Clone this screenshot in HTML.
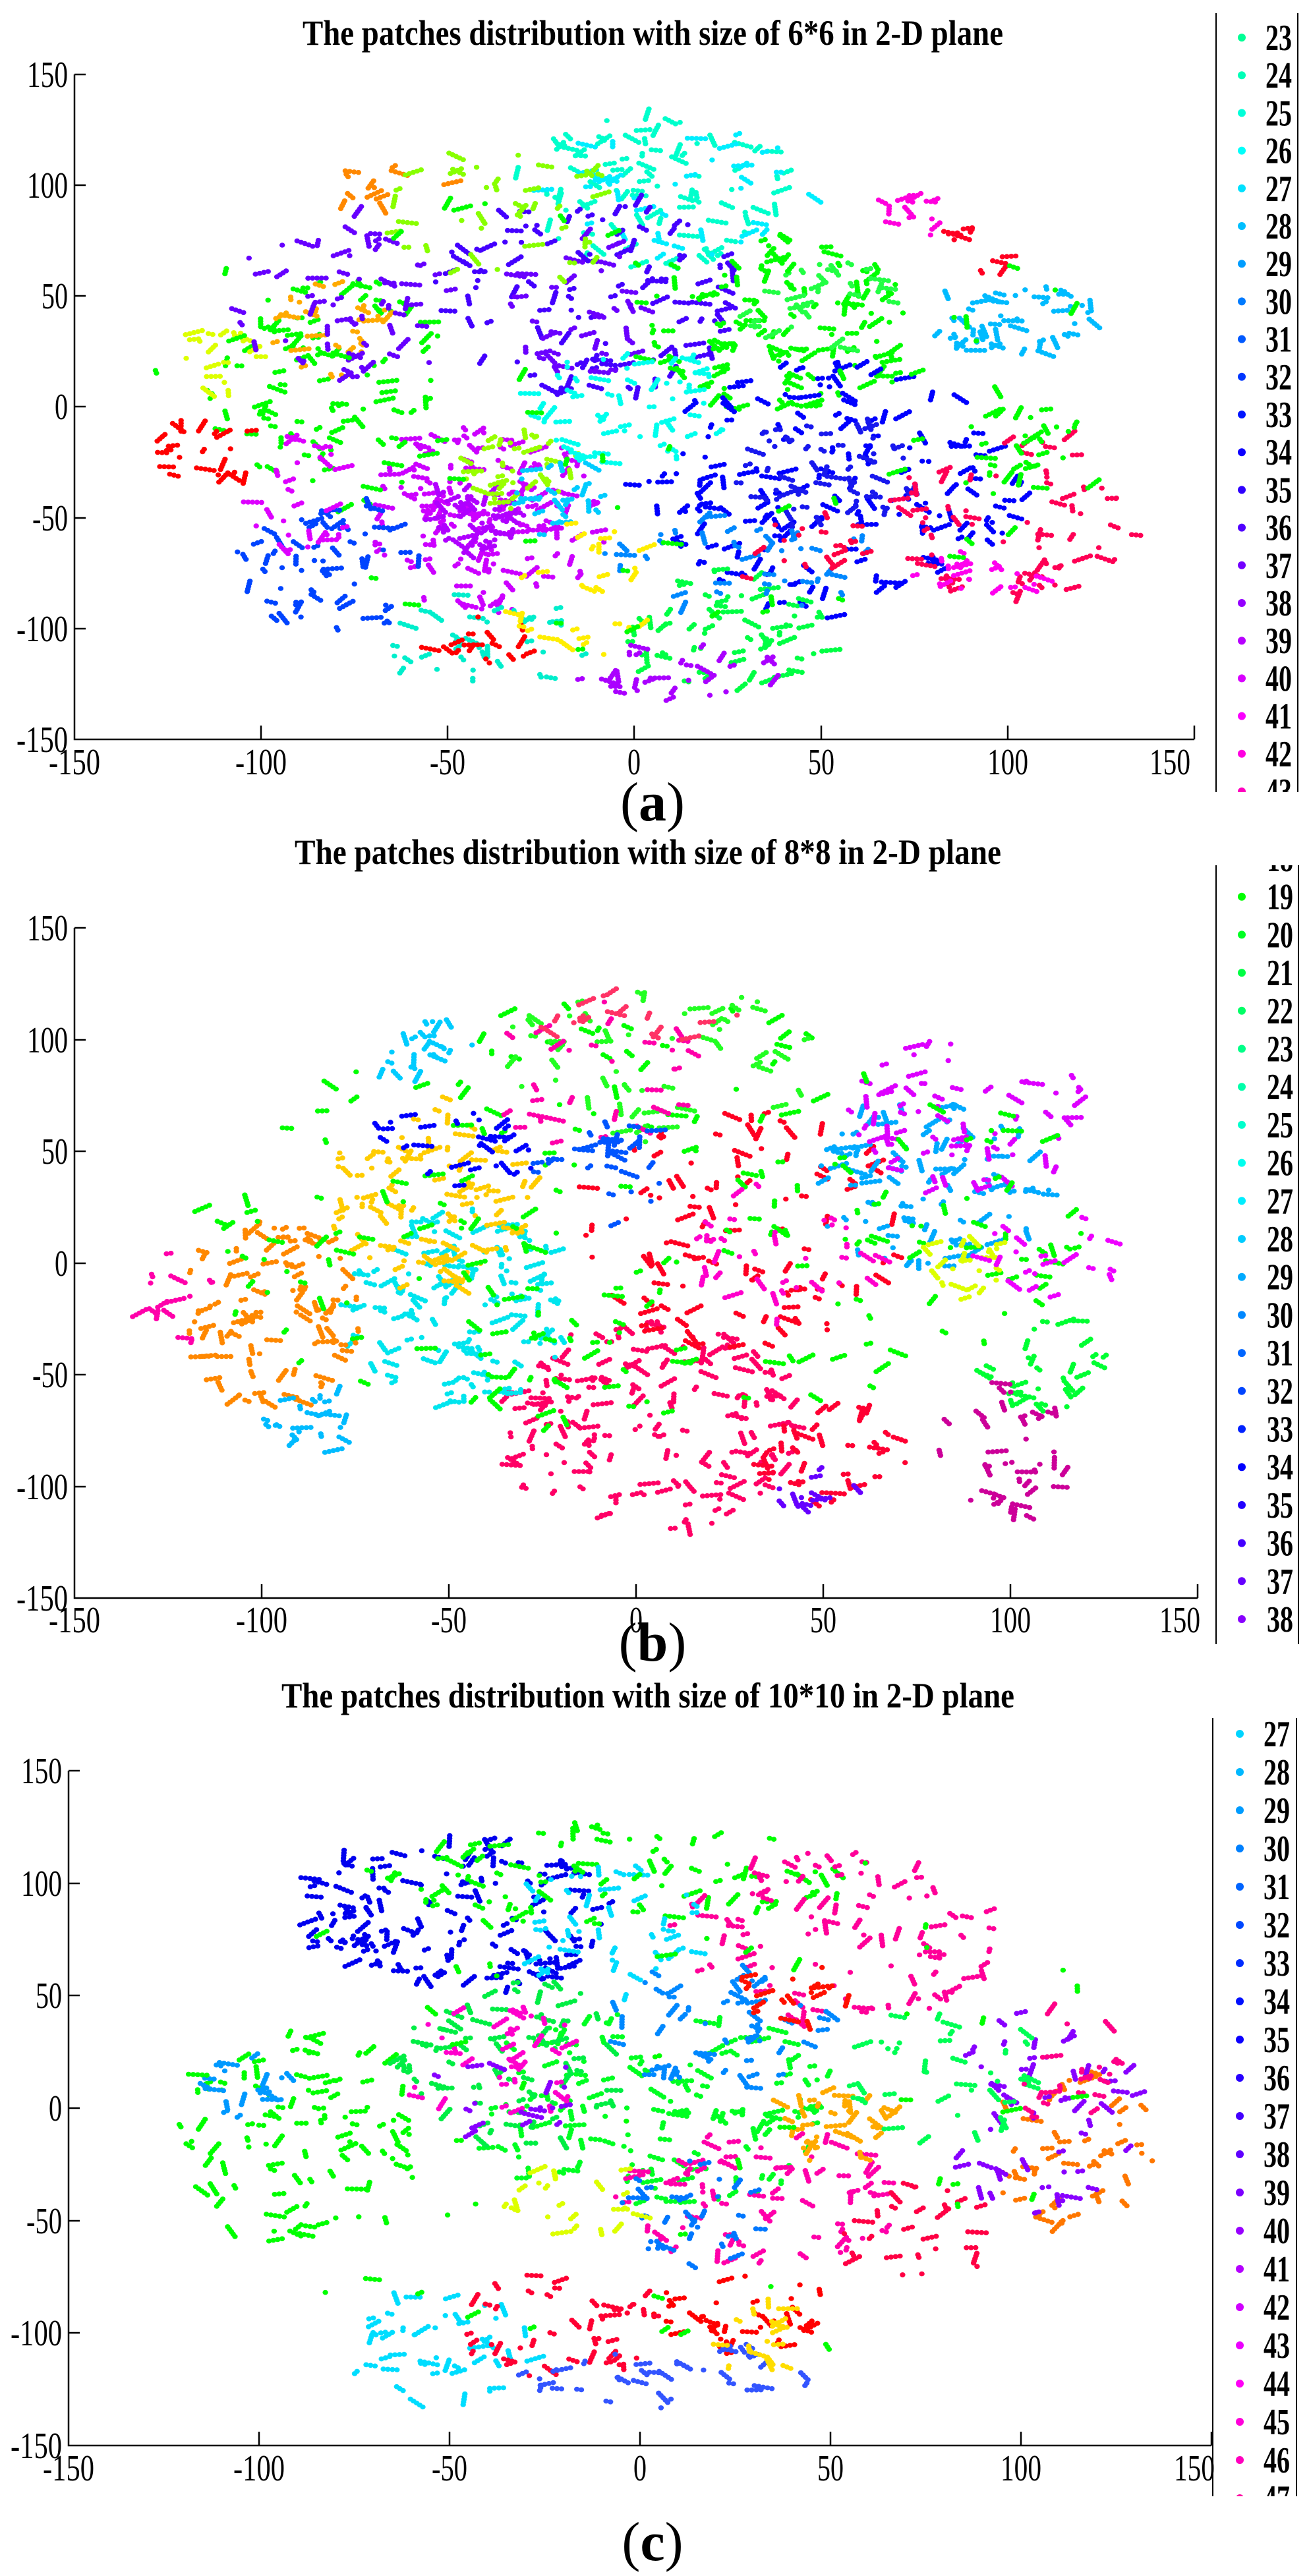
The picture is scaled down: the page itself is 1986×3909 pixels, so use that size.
<!DOCTYPE html>
<html><head><meta charset="utf-8">
<style>
html,body{margin:0;padding:0;background:#fff;}
svg{display:block;}
.t{font-family:"Liberation Serif",serif;font-weight:bold;font-size:54px;}
.k{font-family:"Liberation Serif",serif;font-size:56px;}
.l{font-family:"Liberation Serif",serif;font-weight:bold;font-size:56px;}
.c{font-family:"Liberation Serif",serif;font-size:84px;}
</style></head>
<body>
<svg id="s" width="1986" height="3909" viewBox="0 0 1986 3909" xmlns="http://www.w3.org/2000/svg">
<defs>
<clipPath id="ca"><rect x="1830" y="20" width="156" height="1182"/></clipPath>
<clipPath id="cb"><rect x="1830" y="1313" width="156" height="1182"/></clipPath>
<clipPath id="cc"><rect x="1830" y="2607" width="156" height="1181"/></clipPath>
</defs>
<g id="dots"></g>

<!-- Panel a -->
<text class="t" x="459" y="68" textLength="1063" lengthAdjust="spacingAndGlyphs">The patches distribution with size of 6*6 in 2-D plane</text>
<g stroke="#000" stroke-width="2.5" fill="none">
<path d="M113 113 V1122 H1812"/>
<path d="M113 113h17M113 281h17M113 449h17M113 617h17M113 786h17M113 954h17"/>
<path d="M396 1122v-21M679 1122v-21M962 1122v-21M1246 1122v-21M1529 1122v-21M1812 1122v-21"/>
</g>
<g class="k" text-anchor="end">
<text x="103" y="132" textLength="62" lengthAdjust="spacingAndGlyphs">150</text>
<text x="103" y="300" textLength="62" lengthAdjust="spacingAndGlyphs">100</text>
<text x="103" y="468" textLength="40" lengthAdjust="spacingAndGlyphs">50</text>
<text x="103" y="636" textLength="20" lengthAdjust="spacingAndGlyphs">0</text>
<text x="103" y="805" textLength="54" lengthAdjust="spacingAndGlyphs">-50</text>
<text x="103" y="973" textLength="78" lengthAdjust="spacingAndGlyphs">-100</text>
<text x="103" y="1141" textLength="78" lengthAdjust="spacingAndGlyphs">-150</text>
</g>
<g class="k" text-anchor="middle">
<text x="113" y="1175" textLength="78" lengthAdjust="spacingAndGlyphs">-150</text>
<text x="396" y="1175" textLength="78" lengthAdjust="spacingAndGlyphs">-100</text>
<text x="679" y="1175" textLength="54" lengthAdjust="spacingAndGlyphs">-50</text>
<text x="962" y="1175" textLength="20" lengthAdjust="spacingAndGlyphs">0</text>
<text x="1246" y="1175" textLength="40" lengthAdjust="spacingAndGlyphs">50</text>
<text x="1529" y="1175" textLength="62" lengthAdjust="spacingAndGlyphs">100</text>
<text x="1775" y="1175" textLength="62" lengthAdjust="spacingAndGlyphs">150</text>
</g>
<text class="c" x="990" y="1245" text-anchor="middle">(<tspan font-weight="bold">a</tspan>)</text>
<g clip-path="url(#ca)">
<path d="M1845 20V1202M1969 20V1202" stroke="#000" stroke-width="2"/>
<g id="la" class="l"></g>
</g>

<!-- Panel b -->
<text class="t" x="447" y="1311" textLength="1072" lengthAdjust="spacingAndGlyphs">The patches distribution with size of 8*8 in 2-D plane</text>
<g stroke="#000" stroke-width="2.5" fill="none">
<path d="M113 1408 V2425 H1817"/>
<path d="M113 1408h17M113 1578h17M113 1747h17M113 1917h17M113 2086h17M113 2256h17"/>
<path d="M397 2425v-21M681 2425v-21M965 2425v-21M1249 2425v-21M1533 2425v-21M1817 2425v-21"/>
</g>
<g class="k" text-anchor="end">
<text x="103" y="1427" textLength="62" lengthAdjust="spacingAndGlyphs">150</text>
<text x="103" y="1597" textLength="62" lengthAdjust="spacingAndGlyphs">100</text>
<text x="103" y="1766" textLength="40" lengthAdjust="spacingAndGlyphs">50</text>
<text x="103" y="1936" textLength="20" lengthAdjust="spacingAndGlyphs">0</text>
<text x="103" y="2105" textLength="54" lengthAdjust="spacingAndGlyphs">-50</text>
<text x="103" y="2275" textLength="78" lengthAdjust="spacingAndGlyphs">-100</text>
<text x="103" y="2444" textLength="78" lengthAdjust="spacingAndGlyphs">-150</text>
</g>
<g class="k" text-anchor="middle">
<text x="113" y="2477" textLength="78" lengthAdjust="spacingAndGlyphs">-150</text>
<text x="397" y="2477" textLength="78" lengthAdjust="spacingAndGlyphs">-100</text>
<text x="681" y="2477" textLength="54" lengthAdjust="spacingAndGlyphs">-50</text>
<text x="965" y="2477" textLength="20" lengthAdjust="spacingAndGlyphs">0</text>
<text x="1249" y="2477" textLength="40" lengthAdjust="spacingAndGlyphs">50</text>
<text x="1533" y="2477" textLength="62" lengthAdjust="spacingAndGlyphs">100</text>
<text x="1790" y="2477" textLength="62" lengthAdjust="spacingAndGlyphs">150</text>
</g>
<text class="c" x="990" y="2520" text-anchor="middle">(<tspan font-weight="bold">b</tspan>)</text>
<g clip-path="url(#cb)">
<path d="M1845 1313V2495M1970 1313V2495" stroke="#000" stroke-width="2"/>
<g id="lb" class="l"></g>
</g>

<!-- Panel c -->
<text class="t" x="427" y="2591" textLength="1112" lengthAdjust="spacingAndGlyphs">The patches distribution with size of 10*10 in 2-D plane</text>
<g stroke="#000" stroke-width="2.5" fill="none">
<path d="M104 2687 V3711 H1838"/>
<path d="M104 2687h17M104 2858h17M104 3028h17M104 3199h17M104 3370h17M104 3540h17"/>
<path d="M393 3711v-21M682 3711v-21M971 3711v-21M1260 3711v-21M1549 3711v-21M1838 3711v-21"/>
</g>
<g class="k" text-anchor="end">
<text x="94" y="2706" textLength="62" lengthAdjust="spacingAndGlyphs">150</text>
<text x="94" y="2877" textLength="62" lengthAdjust="spacingAndGlyphs">100</text>
<text x="94" y="3047" textLength="40" lengthAdjust="spacingAndGlyphs">50</text>
<text x="94" y="3218" textLength="20" lengthAdjust="spacingAndGlyphs">0</text>
<text x="94" y="3389" textLength="54" lengthAdjust="spacingAndGlyphs">-50</text>
<text x="94" y="3559" textLength="78" lengthAdjust="spacingAndGlyphs">-100</text>
<text x="94" y="3730" textLength="78" lengthAdjust="spacingAndGlyphs">-150</text>
</g>
<g class="k" text-anchor="middle">
<text x="104" y="3764" textLength="78" lengthAdjust="spacingAndGlyphs">-150</text>
<text x="393" y="3764" textLength="78" lengthAdjust="spacingAndGlyphs">-100</text>
<text x="682" y="3764" textLength="54" lengthAdjust="spacingAndGlyphs">-50</text>
<text x="971" y="3764" textLength="20" lengthAdjust="spacingAndGlyphs">0</text>
<text x="1260" y="3764" textLength="40" lengthAdjust="spacingAndGlyphs">50</text>
<text x="1549" y="3764" textLength="62" lengthAdjust="spacingAndGlyphs">100</text>
<text x="1812" y="3764" textLength="62" lengthAdjust="spacingAndGlyphs">150</text>
</g>
<text class="c" x="990" y="3885" text-anchor="middle">(<tspan font-weight="bold">c</tspan>)</text>
<g clip-path="url(#cc)">
<path d="M1840 2607V3788M1967 2607V3788" stroke="#000" stroke-width="2"/>
<g id="lc" class="l"></g>
</g>
</svg>
<script>
(function(){
var NS="http://www.w3.org/2000/svg";
function hsl(h){return "hsl("+h+",100%,50%)";}
function legend(id,first,last,y0,step,dotx,textx,h0,hs){
  var g=document.getElementById(id);
  for(var i=first;i<=last;i++){
    var y=y0+(i-first)*step, h=h0+(i-first)*hs;
    var c=document.createElementNS(NS,"circle");
    c.setAttribute("cx",dotx);c.setAttribute("cy",y);c.setAttribute("r",6);c.setAttribute("fill",hsl(h));
    g.appendChild(c);
    var t=document.createElementNS(NS,"text");
    t.setAttribute("x",textx);t.setAttribute("y",y+19);
    t.setAttribute("textLength","40");t.setAttribute("lengthAdjust","spacingAndGlyphs");
    t.textContent=String(i);g.appendChild(t);
  }
}
legend("la",23,43,57,57.2,1884,1920,155,8);
legend("lb",18,38,1303,57.7,1884,1922,112,8);
legend("lc",27,47,2631,58,1881,1917,190,6.6);

var s=123456789;
function r(){s^=s<<13;s^=s>>>17;s^=s<<5;return ((s>>>0)%100000)/100000;}
var dots=document.getElementById("dots");
var out=[];
function panel(P,cl){
  var sx=(P.R-P.L)/300, sy=(P.B-P.T)/300;
  cl.forEach(function(c){
    var x1=c[0],x2=c[1],y1=c[2],y2=c[3],n=c[4],col=c[5];
    var mx=(x1+x2)/2,my=(y1+y2)/2,hx=(x2-x1)/2,hy=(y2-y1)/2;
    for(var k=0;k<n;k++){
      var cx,cy;
      do{cx=2*r()-1;cy=2*r()-1;}while(cx*cx+cy*cy>1);
      cx=mx+cx*hx*1.1; cy=my+cy*hy*1.1;
      var a=r()*Math.PI*2, len=1+Math.floor(r()*5);
      for(var j=0;j<len;j++){
        var px=cx+Math.cos(a)*j*1.2, py=cy+Math.sin(a)*j*1.2;
        out.push('<ellipse cx="'+(P.L+(px+150)*sx).toFixed(1)+'" cy="'+(P.T+(150-py)*sy).toFixed(1)+'" rx="4.2" ry="3.8" fill="'+col+'"/>');
      }
    }
  });
}
panel({L:113,R:1812,T:113,B:1122},[
 [-30,40,65,128,90,"#00ffcc"],[-20,45,70,125,40,"#00eeff"],
 [-50,25,10,90,110,"#4400ff"],[-35,5,15,75,40,"#6a00ff"],
 [5,75,0,72,120,"#00ff00"],[30,70,25,65,30,"#22ff44"],
 [82,122,25,55,50,"#00bbff"],
 [5,100,-90,15,180,"#0000ff"],[30,75,-55,-5,60,"#1818ee"],
 [-70,-10,-90,-10,150,"#cc00ff"],[-55,-30,-65,-35,50,"#b000ff"],
 [-45,-15,-45,-10,35,"#99ff00"],
 [-25,25,-25,25,60,"#00ffee"],[-32,-5,-60,-25,25,"#00ccff"],
 [-112,-50,-40,55,100,"#00ff00"],[-95,-65,15,55,30,"#ffaa00"],
 [-122,-98,5,35,18,"#ddff00"],[-126,-100,-35,-3,22,"#ff0000"],
 [-105,-45,15,85,60,"#6600ff"],[-105,-55,-100,-45,60,"#0044ff"],
 [0,50,-125,-75,60,"#00ff44"],[-15,40,-130,-105,28,"#aa00ff"],
 [72,132,-85,-15,70,"#ff0055"],[90,118,-40,5,30,"#00ff00"],
 [72,108,-85,-65,22,"#ff00ee"],[-68,-15,-125,-85,40,"#00eecc"],
 [-58,-25,-115,-95,18,"#ff0000"],[-35,5,-112,-55,28,"#ffee00"],
 [-80,-52,90,108,12,"#ff8800"],[66,82,76,100,14,"#ff00dd"],[82,102,58,80,10,"#ff0022"],
 [-105,-75,-65,-15,28,"#dd00ff"],[-5,65,-90,-50,40,"#0088ff"],[25,65,-80,-50,20,"#ff0044"],
 [-65,-5,55,115,40,"#88ff00"],[-120,120,-100,100,60,"#00ff00"]
]);
panel({L:113,R:1817,T:1408,B:2425},[
 [-35,40,-118,-30,170,"#ff0066"],[-10,70,-35,65,100,"#ff0022"],
 [-75,-20,-60,20,130,"#00e5ee"],[-80,-30,-10,70,100,"#ffcc00"],
 [-120,-75,-60,15,100,"#ff8800"],[50,108,0,70,100,"#00aaff"],
 [60,118,35,98,70,"#dd00ff"],[-110,110,-70,110,220,"#00ff00"],
 [-70,-25,35,75,30,"#0000ff"],[-35,45,55,122,55,"#22ff22"],[76,98,-15,15,22,"#ddff00"],
 [95,125,-65,-25,32,"#00ff33"],[82,115,-112,-55,40,"#cc0099"],
 [-100,-72,-85,-55,22,"#00bbff"],[35,72,-108,-65,38,"#ff0033"],
 [-35,15,50,115,30,"#ff00aa"],[15,65,-25,35,35,"#ff00cc"],[-132,-108,-35,5,15,"#ff00aa"],
 [-25,25,98,122,18,"#ff3366"],[-70,-45,80,112,22,"#00ccff"],[38,58,-112,-92,12,"#6600ff"],
 [-25,10,15,65,28,"#0055ff"],[95,128,-15,25,20,"#ee00ff"]
]);
panel({L:104,R:1838,T:2687,B:3711},[
 [-85,-10,55,118,150,"#0000ee"],[-70,50,82,124,80,"#00ff00"],
 [-118,-60,-60,30,100,"#00ff00"],[-40,50,-40,40,140,"#00ff22"],
 [10,90,40,112,100,"#ff0099"],[-5,65,-68,-12,75,"#ff00aa"],
 [-10,50,10,60,55,"#0088ff"],[-5,30,-70,-25,35,"#0077ff"],
 [35,65,-25,8,35,"#ffaa00"],[92,135,-50,15,45,"#ff7700"],
 [82,128,-45,40,55,"#8800ff"],[5,50,-108,-75,38,"#ff0000"],[28,56,35,65,18,"#ff1100"],
 [-78,-30,-128,-85,45,"#00ddff"],[-48,5,-118,-75,45,"#ff0033"],
 [-30,45,-132,-105,38,"#3355ff"],[15,45,-115,-85,18,"#ffdd00"],
 [-30,15,50,110,45,"#00ddff"],[-60,-5,-15,55,75,"#00ee44"],[-60,-15,-5,45,35,"#ff00cc"],
 [55,105,-15,45,38,"#00ff55"],[-115,-92,-5,28,18,"#0099ff"],[-35,0,-55,-20,22,"#ddff00"],
 [55,95,-75,-35,28,"#ff0044"],[95,130,-5,45,22,"#ff0088"],[-55,-15,-15,25,18,"#8800ff"],
 [-110,120,-110,110,50,"#00ff00"]
]);
dots.innerHTML=out.join("");
})();
</script>
</body></html>
